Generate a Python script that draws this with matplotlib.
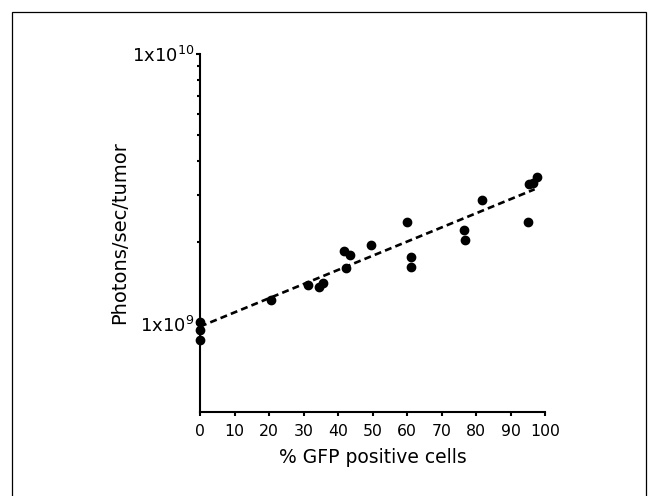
import matplotlib
matplotlib.use("Agg")
import matplotlib.pyplot as plt
from matplotlib.patches import Rectangle
from matplotlib.ticker import FixedLocator, NullFormatter
import numpy as np

# ---- data ----
gfp_pct = [0, 0, 0, 20.6, 31.2, 34.6, 35.6, 41.7, 43.5, 42.3, 49.5,
           59.9, 61.1, 61.1, 76.6, 76.8, 81.8, 95.0, 95.5, 96.4, 97.8]
photons = [1.01e9, 0.95e9, 0.87e9, 1.22e9, 1.39e9, 1.37e9, 1.42e9, 1.86e9,
           1.79e9, 1.61e9, 1.96e9, 2.39e9, 1.77e9, 1.62e9, 2.23e9, 2.05e9,
           2.88e9, 2.39e9, 3.29e9, 3.32e9, 3.51e9]
fit_x = [0, 97]
fit_y = [9.75e8, 3.15e9]
x_ticks = [0, 10, 20, 30, 40, 50, 60, 70, 80, 90, 100]
y_major = [1e9, 1e10]
y_major_labels = [r"1x10$^{9}$", r"1x10$^{10}$"]
y_minor = [2e9, 3e9, 4e9, 5e9, 6e9, 7e9, 8e9, 9e9]
x_label = "% GFP positive cells"
y_label = "Photons/sec/tumor"

plt.rcParams['font.family'] = ['DejaVu Sans']
plt.rcParams['mathtext.fontset'] = 'dejavusans'
plt.rcParams['lines.scale_dashes'] = False

W, H = 655, 496
fig = plt.figure(figsize=(W / 100, H / 100), dpi=100)
ax = fig.add_axes([200 / W, 1 - 412 / H, 345 / W, 358 / H])

ax.set_yscale('log')
ax.set_xlim(0, 100)
ax.set_ylim(4.7e8, 1e10)

ax.plot(fit_x, fit_y, color='black', lw=1.9, linestyle=(0, (5, 3)),
        zorder=2, clip_on=False)
ax.plot(gfp_pct, photons, 'o', color='black', markersize=6, zorder=3,
        clip_on=False)

for s in ['top', 'right']:
    ax.spines[s].set_visible(False)
for s in ['left', 'bottom']:
    ax.spines[s].set_linewidth(1.5)

ax.set_xticks(x_ticks)
ax.set_xticklabels([str(t) for t in x_ticks], fontsize=11.3)
ax.yaxis.set_major_locator(FixedLocator(y_major))
ax.set_yticklabels(y_major_labels, fontsize=13)
ax.yaxis.set_minor_locator(FixedLocator(y_minor))
ax.yaxis.set_minor_formatter(NullFormatter())

ax.tick_params(axis='x', which='major', direction='out', length=3,
               width=1.5, pad=6, colors='black')
ax.tick_params(axis='y', which='major', direction='out', length=3,
               width=1.5, pad=1, colors='black')
ax.tick_params(axis='y', which='minor', direction='out', length=2,
               width=1.5)

ax.set_xlabel(x_label, fontsize=13.5, labelpad=6)
ax.set_ylabel(y_label, fontsize=14, labelpad=2)

# outer frame
fig.patches.append(Rectangle((12 / W, -0.05), (646 - 12) / W, 1 - 12 / H + 0.05,
                             transform=fig.transFigure, fill=False,
                             edgecolor='black', lw=0.9))

fig.savefig("out.png", dpi=100)
